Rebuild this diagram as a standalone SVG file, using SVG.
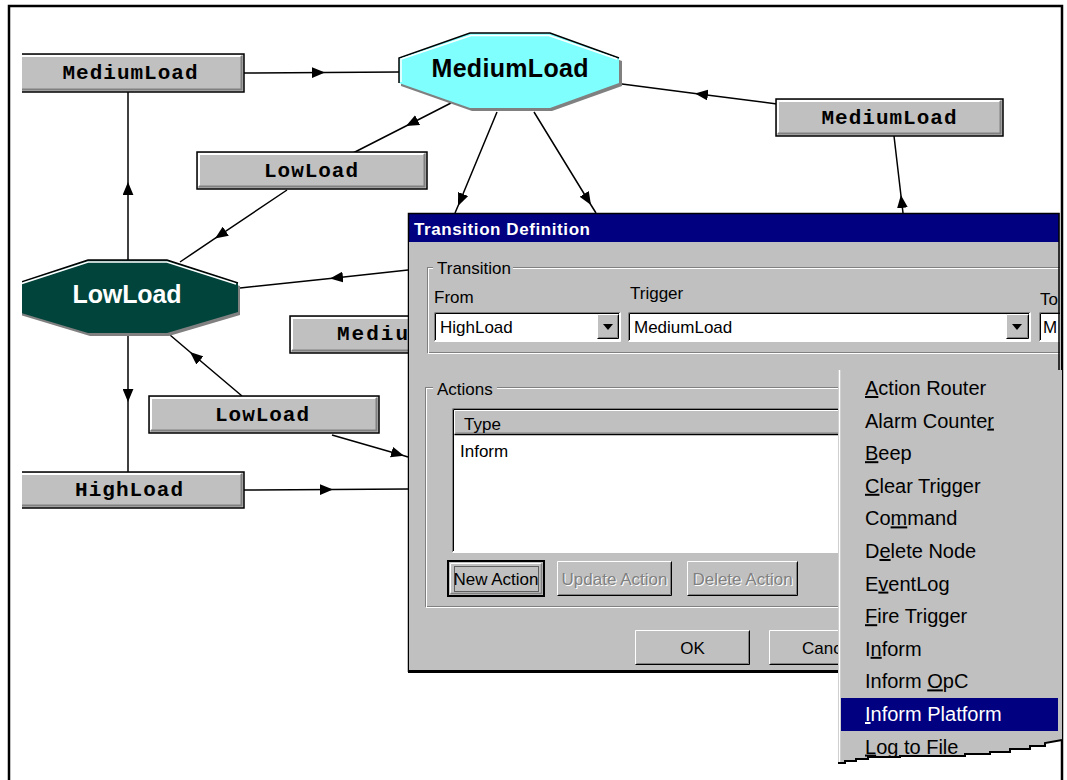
<svg xmlns="http://www.w3.org/2000/svg" width="1067" height="780" viewBox="0 0 1067 780">
<style>
.ln{fill:none;stroke:#000;stroke-width:1.5;marker-mid:url(#ah)}
.box{fill:#c0c0c0;stroke:#000;stroke-width:1.5}
.hi{fill:none;stroke:#fff;stroke-width:2}
.sh{fill:none;stroke:#808080;stroke-width:2}
.lbl{font-family:"Liberation Mono","DejaVu Sans Mono",monospace;font-weight:bold;font-size:21px;text-anchor:middle;fill:#000}
.oct{font-family:"Liberation Sans",Arial,sans-serif;font-weight:bold;font-size:25px;text-anchor:middle}
.ui{font-family:"Liberation Sans",Arial,sans-serif;font-size:17px;fill:#000}
.dis{fill:#808080}
.dsh{fill:#fff}
.mi{font-family:"Liberation Sans",Arial,sans-serif;font-size:20px;fill:#000}
.sel{fill:#fff}
.u{text-decoration:underline}
.etch1{fill:none;stroke:#808080;stroke-width:1}
.etch2{fill:none;stroke:#fff;stroke-width:1}
</style>
<defs>
<marker id="ah" viewBox="0 0 12 10" refX="12" refY="5" markerWidth="13" markerHeight="11" orient="auto" markerUnits="userSpaceOnUse">
<path d="M0,0 L12,5 L0,10 z" fill="#000"/>
</marker>
<clipPath id="canvas"><rect x="22" y="0" width="1045" height="780"/></clipPath>
<clipPath id="dlg"><rect x="408" y="213" width="652" height="459"/></clipPath>
<clipPath id="menuclip"><path d="M838,370 H1062 V740 L1045,743 L1045,746 L1030,746 L1030,749 L1010,749 L1010,752 L990,752 L990,754 L965,754 L965,756 L900,756 L900,757 L868,757 L868,759 L856,759 L856,761 L845,761 L845,763 L838,763 Z"/></clipPath>
</defs>
<rect x="0" y="0" width="1067" height="780" fill="#fff"/>
<path d="M9,780 V6 H1062 V780" fill="none" stroke="#000" stroke-width="2.5"/>

<g clip-path="url(#canvas)">
<g id="connectors">
<path class="ln" d="M244,73 L325,72.5 L399,72"/>
<path class="ln" d="M128,260 L128,182 L128,92"/>
<path class="ln" d="M451,103 L406,126 L353,153"/>
<path class="ln" d="M287,190 L215,238.4 L180,262"/>
<path class="ln" d="M497,112 L458,206 L455,213"/>
<path class="ln" d="M534,112 L591,205 L596,213"/>
<path class="ln" d="M903,213 L900.9,195 L894,136"/>
<path class="ln" d="M777,104 L695,93.4 L622,84"/>
<path class="ln" d="M408,270 L330,278.4 L240,288"/>
<path class="ln" d="M242,396 L190,352 L170,335"/>
<path class="ln" d="M128,334 L128,402 L128,472"/>
<path class="ln" d="M332,435 L404,455.8 L408,457"/>
<path class="ln" d="M244,490 L333,489.5 L408,489"/>
</g>

<g id="state-mediumload">
<polygon points="472,36 552,36 622,61 622,86 552,111 472,111 401,86 401,61" fill="#808080"/>
<polygon points="470,33 550,33 619,58 619,83 550,108 470,108 399,83 399,58" fill="#80ffff"/>
<polyline points="399,83 399,58 470,33 550,33 619,58" fill="none" stroke="#000" stroke-width="1.5"/>
<polyline points="401,82 401,59 471,35.5 549,35.5 617,59" fill="none" stroke="#fff" stroke-width="1.5"/>
<text class="oct" x="510" y="77" fill="#000" textLength="157">MediumLoad</text>
</g>

<g id="state-lowload">
<polygon points="90,263 169,263 240,286 240,315 169,336 90,336 20,315 20,286" fill="#808080"/>
<polygon points="88,260 167,260 238,283 238,312 167,333 88,333 18,312 18,283" fill="#00443c"/>
<polyline points="18,283 88,260 167,260 238,283" fill="none" stroke="#000" stroke-width="1.5"/>
<polyline points="20,284 88,262 167,262 236,284" fill="none" stroke="#fff" stroke-width="1.5"/>
<text class="oct" x="127" y="303" fill="#fff" textLength="109">LowLoad</text>
</g>

<g id="trans-mediumload-left">
<rect class="box" x="18" y="54" width="226" height="38"/>
<path class="hi" d="M20,56 H241"/>
<path class="sh" d="M18,89.5 H241.5 V56"/>
<text class="lbl" x="130" y="79" textLength="135">MediumLoad</text>
</g>

<g id="trans-lowload-top">
<rect class="box" x="197" y="152" width="230" height="37"/>
<path class="hi" d="M199,186 V154 H424"/>
<path class="sh" d="M199,186.5 H424.5 V154"/>
<text class="lbl" x="311" y="177" textLength="94">LowLoad</text>
</g>

<g id="trans-mediumload-right">
<rect class="box" x="776" y="99" width="227" height="37"/>
<path class="hi" d="M778,133 V101 H1000"/>
<path class="sh" d="M778,133.5 H1000.5 V101"/>
<text class="lbl" x="889" y="124" textLength="135">MediumLoad</text>
</g>

<g id="trans-mediumload-mid">
<rect class="box" x="290" y="316" width="130" height="37"/>
<path class="hi" d="M292,350 V318 H420"/>
<path class="sh" d="M292,350.5 H420"/>
<text class="lbl" x="337" y="340" style="text-anchor:start" textLength="71">Mediu</text>
</g>

<g id="trans-lowload-bottom">
<rect class="box" x="149" y="396" width="230" height="37"/>
<path class="hi" d="M151,430 V398 H376"/>
<path class="sh" d="M151,430.5 H376.5 V398"/>
<text class="lbl" x="262" y="421" textLength="94">LowLoad</text>
</g>

<g id="trans-highload">
<rect class="box" x="18" y="472" width="226" height="36"/>
<path class="hi" d="M20,474 H241"/>
<path class="sh" d="M18,505.5 H241.5 V474"/>
<text class="lbl" x="129" y="496" textLength="108">HighLoad</text>
</g>
</g>

<g id="dialog">
<rect x="408" y="213" width="652" height="459" fill="#c0c0c0"/>
<rect x="409" y="214" width="650" height="28" fill="#000080"/>
<text class="ui" x="414" y="235" style="font-weight:bold;fill:#fff" textLength="176">Transition Definition</text>
<g clip-path="url(#dlg)">
<rect class="etch1" x="427.5" y="267.5" width="700" height="85"/>
<rect class="etch2" x="428.5" y="268.5" width="700" height="85"/>
<rect x="433" y="260" width="80" height="16" fill="#c0c0c0"/>
<text class="ui" x="437" y="274">Transition</text>
<text class="ui" x="434" y="303">From</text>
<text class="ui" x="630" y="299">Trigger</text>
<text class="ui" x="1040" y="305">To</text>

<rect x="434" y="312" width="186" height="29" fill="#fff"/>
<path d="M434.5,341 V312.5 H620" fill="none" stroke="#808080" stroke-width="1"/>
<path d="M435.5,340 V313.5 H619" fill="none" stroke="#000" stroke-width="1"/>
<path d="M434.5,341.5 H620.5 V312.5" fill="none" stroke="#fff" stroke-width="1"/>
<rect x="597" y="314" width="21" height="25" fill="#c0c0c0"/>
<path d="M597.5,338.5 V314.5 H618" fill="none" stroke="#fff" stroke-width="1"/>
<path d="M597.5,338.5 H618.5 V314.5" fill="none" stroke="#000" stroke-width="1"/>
<path d="M598.5,337.5 H617.5 V315.5" fill="none" stroke="#808080" stroke-width="1"/>
<polygon points="603,324 613,324 608,330" fill="#000"/>
<text class="ui" x="440" y="333">HighLoad</text>

<rect x="628" y="312" width="402" height="29" fill="#fff"/>
<path d="M628.5,341 V312.5 H1030" fill="none" stroke="#808080" stroke-width="1"/>
<path d="M629.5,340 V313.5 H1029" fill="none" stroke="#000" stroke-width="1"/>
<path d="M628.5,341.5 H1030.5 V312.5" fill="none" stroke="#fff" stroke-width="1"/>
<rect x="1006" y="314" width="22" height="25" fill="#c0c0c0"/>
<path d="M1006.5,338.5 V314.5 H1028" fill="none" stroke="#fff" stroke-width="1"/>
<path d="M1006.5,338.5 H1028.5 V314.5" fill="none" stroke="#000" stroke-width="1"/>
<path d="M1007.5,337.5 H1027.5 V315.5" fill="none" stroke="#808080" stroke-width="1"/>
<polygon points="1012,324 1022,324 1017,330" fill="#000"/>
<text class="ui" x="634" y="333">MediumLoad</text>

<rect x="1039" y="312" width="30" height="29" fill="#fff"/>
<path d="M1039.5,341 V312.5 H1070" fill="none" stroke="#808080" stroke-width="1"/>
<path d="M1040.5,340 V313.5 H1070" fill="none" stroke="#000" stroke-width="1"/>
<path d="M1039.5,341.5 H1070" fill="none" stroke="#fff" stroke-width="1"/>
<text class="ui" x="1043" y="333">M</text>

<rect class="etch1" x="425.5" y="387.5" width="450" height="219"/>
<rect class="etch2" x="426.5" y="388.5" width="450" height="219"/>
<rect x="433" y="380" width="64" height="16" fill="#c0c0c0"/>
<text class="ui" x="437" y="395">Actions</text>

<rect x="452" y="408" width="420" height="144" fill="#fff"/>
<path d="M452.5,552 V408.5 H872" fill="none" stroke="#808080" stroke-width="1"/>
<path d="M453.5,551 V409.5 H872" fill="none" stroke="#000" stroke-width="1"/>
<path d="M452.5,552.5 H872" fill="none" stroke="#fff" stroke-width="1"/>
<rect x="454" y="410" width="420" height="25" fill="#c0c0c0"/>
<path d="M454.5,434.5 V410.5 H874" fill="none" stroke="#fff" stroke-width="1"/>
<path d="M454.5,434.5 H874" fill="none" stroke="#000" stroke-width="1.5"/>
<path d="M455.5,433 H874" fill="none" stroke="#808080" stroke-width="1"/>
<text class="ui" x="464" y="430">Type</text>
<text class="ui" x="460" y="457">Inform</text>

<g id="btn-new">
<rect x="448" y="561" width="96" height="35" fill="#c0c0c0" stroke="#000" stroke-width="2"/>
<path d="M450.5,593.5 V563.5 H541" fill="none" stroke="#fff" stroke-width="1"/>
<path d="M450.5,593.5 H541.5 V563.5" fill="none" stroke="#808080" stroke-width="1.5"/>
<rect x="454.5" y="566.5" width="84" height="25" fill="none" stroke="#000" stroke-width="1" stroke-dasharray="1,1"/>
<text class="ui" x="496" y="585" style="text-anchor:middle">New Action</text>
</g>
<g id="btn-update">
<rect x="557" y="561" width="115" height="35" fill="#c0c0c0"/>
<path d="M557.5,595.5 V561.5 H671.5" fill="none" stroke="#fff" stroke-width="1"/>
<path d="M557.5,595.5 H671.5 V561.5" fill="none" stroke="#000" stroke-width="1"/>
<path d="M558.5,594.5 H670.5 V562.5" fill="none" stroke="#808080" stroke-width="1"/>
<text class="ui dsh" x="615.5" y="586" style="text-anchor:middle">Update Action</text>
<text class="ui dis" x="614.5" y="585" style="text-anchor:middle">Update Action</text>
</g>
<g id="btn-delete">
<rect x="687" y="561" width="111" height="35" fill="#c0c0c0"/>
<path d="M687.5,595.5 V561.5 H797.5" fill="none" stroke="#fff" stroke-width="1"/>
<path d="M687.5,595.5 H797.5 V561.5" fill="none" stroke="#000" stroke-width="1"/>
<path d="M688.5,594.5 H796.5 V562.5" fill="none" stroke="#808080" stroke-width="1"/>
<text class="ui dsh" x="743.5" y="586" style="text-anchor:middle">Delete Action</text>
<text class="ui dis" x="742.5" y="585" style="text-anchor:middle">Delete Action</text>
</g>
<g id="btn-ok">
<rect x="635" y="630" width="115" height="35" fill="#c0c0c0"/>
<path d="M635.5,664.5 V630.5 H749.5" fill="none" stroke="#fff" stroke-width="1"/>
<path d="M635.5,664.5 H749.5 V630.5" fill="none" stroke="#000" stroke-width="1"/>
<path d="M636.5,663.5 H748.5 V631.5" fill="none" stroke="#808080" stroke-width="1"/>
<text class="ui" x="692.5" y="654" style="text-anchor:middle">OK</text>
</g>
<g id="btn-cancel">
<rect x="769" y="630" width="115" height="35" fill="#c0c0c0"/>
<path d="M769.5,664.5 V630.5 H884" fill="none" stroke="#fff" stroke-width="1"/>
<path d="M769.5,664.5 H884" fill="none" stroke="#000" stroke-width="1"/>
<path d="M770.5,663.5 H884" fill="none" stroke="#808080" stroke-width="1"/>
<text class="ui" x="802" y="654">Canc</text>
</g>
</g>
<path d="M409.5,242 V670" stroke="#fff" stroke-width="1"/>
<path d="M408.5,672 V213.5 H1059 V672" fill="none" stroke="#000" stroke-width="1.5"/>
<path d="M408,671.5 H840" stroke="#000" stroke-width="3"/>
</g>

<g id="popup-menu">
<path d="M838,370 H1062 V740 L1045,743 L1045,746 L1030,746 L1030,749 L1010,749 L1010,752 L990,752 L990,754 L965,754 L965,756 L900,756 L900,757 L868,757 L868,759 L856,759 L856,761 L845,761 L845,763 L838,763 Z" fill="#c0c0c0"/>
<path d="M839.5,370 V762" stroke="#fff" stroke-width="1.5"/>
<g clip-path="url(#menuclip)">
<rect x="841" y="698" width="217" height="33" fill="#000080"/>
<text class="mi" x="865" y="395"><tspan class="u">A</tspan>ction Router</text>
<text class="mi" x="865" y="427.6">Alarm Counte<tspan class="u">r</tspan></text>
<text class="mi" x="865" y="460.2"><tspan class="u">B</tspan>eep</text>
<text class="mi" x="865" y="492.8"><tspan class="u">C</tspan>lear Trigger</text>
<text class="mi" x="865" y="525.4">Co<tspan class="u">m</tspan>mand</text>
<text class="mi" x="865" y="558">D<tspan class="u">e</tspan>lete Node</text>
<text class="mi" x="865" y="590.6">E<tspan class="u">v</tspan>entLog</text>
<text class="mi" x="865" y="623.2"><tspan class="u">F</tspan>ire Trigger</text>
<text class="mi" x="865" y="655.8">I<tspan class="u">n</tspan>form</text>
<text class="mi" x="865" y="688.4">Inform <tspan class="u">O</tspan>pC</text>
<text class="mi sel" x="865" y="721"><tspan class="u sel">I</tspan>nform Platform</text>
<text class="mi" x="865" y="753.6"><tspan class="u">L</tspan>og to File</text>
</g>
<path d="M838,763 L845,763 L845,761 L856,761 L856,759 L868,759 L868,757 L900,757 L900,756 L965,756 L965,754 L990,754 L990,752 L1010,752 L1010,749 L1030,749 L1030,746 L1045,746 L1045,743 L1062,740" fill="none" stroke="#000" stroke-width="2"/>
</g>
</svg>
